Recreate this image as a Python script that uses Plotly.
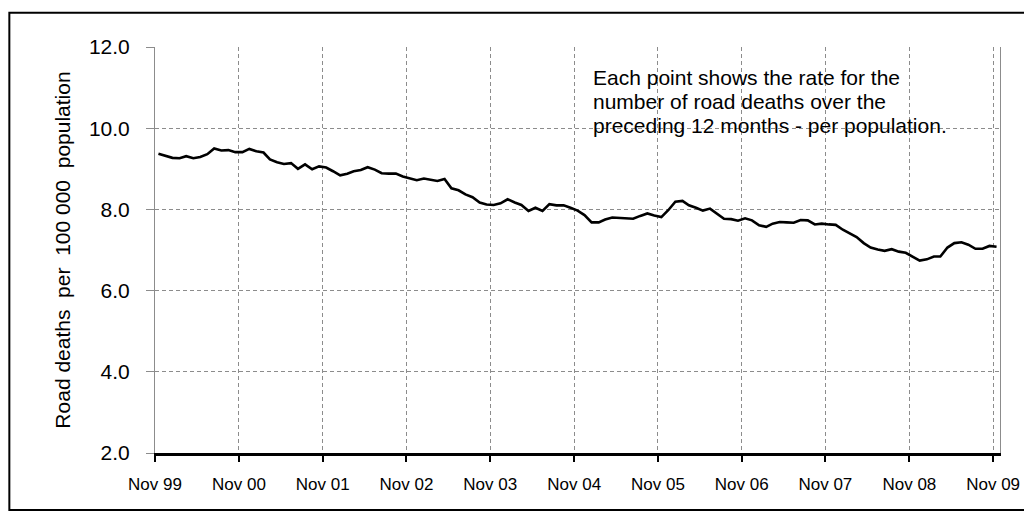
import pandas as pd
import plotly.graph_objects as go

# Monthly rate (12-month rolling road deaths per 100 000 population), Nov 1999 - Nov 2009
months = pd.date_range("1999-11-01", periods=121, freq="MS") + pd.Timedelta(days=15)
rate = [
    9.37, 9.32, 9.27, 9.26, 9.31, 9.26, 9.29, 9.36, 9.50, 9.45, 9.46, 9.41,  # Nov99-Oct00
    9.41, 9.49, 9.43, 9.40, 9.23, 9.16, 9.12, 9.14, 9.00, 9.11, 8.99, 9.06,  # Nov00-Oct01
    9.03, 8.94, 8.84, 8.88, 8.94, 8.97, 9.04, 8.98, 8.89, 8.88, 8.88, 8.81,  # Nov01-Oct02
    8.77, 8.72, 8.76, 8.72, 8.70, 8.75, 8.52, 8.47, 8.37, 8.30, 8.17, 8.12,  # Nov02-Oct03
    8.11, 8.15, 8.25, 8.17, 8.11, 7.96, 8.04, 7.96, 8.13, 8.10, 8.10, 8.04,  # Nov03-Oct04
    7.97, 7.86, 7.68, 7.68, 7.75, 7.80, 7.79, 7.78, 7.77, 7.84, 7.90, 7.85,  # Nov04-Oct05
    7.81, 7.98, 8.19, 8.21, 8.10, 8.04, 7.97, 8.02, 7.90, 7.77, 7.76, 7.72,  # Nov05-Oct06
    7.78, 7.73, 7.61, 7.57, 7.65, 7.69, 7.68, 7.67, 7.74, 7.73, 7.63, 7.65,  # Nov06-Oct07
    7.63, 7.62, 7.50, 7.40, 7.32, 7.17, 7.06, 7.01, 6.98, 7.02, 6.96, 6.93,  # Nov07-Oct08
    6.84, 6.74, 6.77, 6.84, 6.84, 7.06, 7.17, 7.19, 7.13, 7.03, 7.03, 7.10,  # Nov08-Oct09
    7.08,                                                                    # Nov09
]
tick_dates = ["1999-11-01", "2000-11-01", "2001-11-01", "2002-11-01", "2003-11-01",
              "2004-11-01", "2005-11-01", "2006-11-01", "2007-11-01", "2008-11-01",
              "2009-11-01"]
tick_labels = ["Nov 99", "Nov 00", "Nov 01", "Nov 02", "Nov 03", "Nov 04",
               "Nov 05", "Nov 06", "Nov 07", "Nov 08", "Nov 09"]
y_ticks = [2, 4, 6, 8, 10, 12]
y_tick_labels = ["2.0", "4.0", "6.0", "8.0", "10.0", "12.0"]
note_lines = ["Each point shows the rate for the",
              "number of road deaths over the",
              "preceding 12 months - per population."]

FONT = "Arial, Liberation Sans, sans-serif"
GRID = "#8c8c8c"

fig = go.Figure()
fig.add_trace(go.Scatter(x=months, y=rate, mode="lines",
                         line=dict(color="black", width=2.6), showlegend=False,
                         hoverinfo="skip"))

# figure is placed 8px inside the page by the default body margin
W, H = 1024, 512
L, R, T, B = 147, 30, 39, 67
pw, ph = W - L - R, H - T - B

def px_x(x):
    return (x - L) / pw

def px_y(y):
    return (H - B - y) / ph

annotations = []
baselines = [76.5, 100.3, 124.1]
for line, base in zip(note_lines, baselines):
    annotations.append(dict(
        text=line, xref="paper", yref="paper",
        x=px_x(584), y=px_y(base - 7), xanchor="left", yanchor="middle",
        showarrow=False, align="left",
        font=dict(size=21, color="black", family=FONT),
    ))

fig.update_layout(
    width=W, height=H,
    margin=dict(l=L, r=R, t=T, b=B),
    paper_bgcolor="white", plot_bgcolor="white",
    font=dict(family=FONT, color="black"),
    xaxis=dict(
        type="date", range=["1999-11-01", "2009-12-01"],
        tickmode="array", tickvals=tick_dates, ticktext=tick_labels,
        tickfont=dict(size=17, color="black"),
        ticks="outside", ticklen=6, tickwidth=2, tickcolor="black",
        ticklabelstandoff=8,
        showline=True, linecolor="black", linewidth=3,
        showgrid=True, gridcolor=GRID, gridwidth=1, griddash="4px,3px",
        zeroline=False,
    ),
    yaxis=dict(
        range=[2, 12], tickmode="array", tickvals=y_ticks, ticktext=y_tick_labels,
        tickfont=dict(size=21, color="black"),
        ticks="outside", ticklen=8, tickwidth=1, tickcolor=GRID,
        ticklabelstandoff=12,
        showline=True, linecolor=GRID, linewidth=1, mirror=True,
        showgrid=True, gridcolor=GRID, gridwidth=1, griddash="4px,3px",
        zeroline=False,
        title=dict(text="Road deaths  per  100 000  population",
                   font=dict(size=21, color="black"), standoff=12),
    ),
    annotations=annotations,
    shapes=[
        dict(type="rect", xref="paper", yref="paper",
             x0=px_x(572), x1=px_x(982), y0=px_y(129), y1=px_y(43),
             line=dict(width=0), fillcolor="white", layer="between"),
        dict(type="rect", xref="paper", yref="paper",
             x0=px_x(1), x1=px_x(1021), y0=px_y(502), y1=px_y(4.7),
             line=dict(color="black", width=2), fillcolor="rgba(0,0,0,0)",
             layer="above"),
    ],
)

fig.write_html("out.html")
